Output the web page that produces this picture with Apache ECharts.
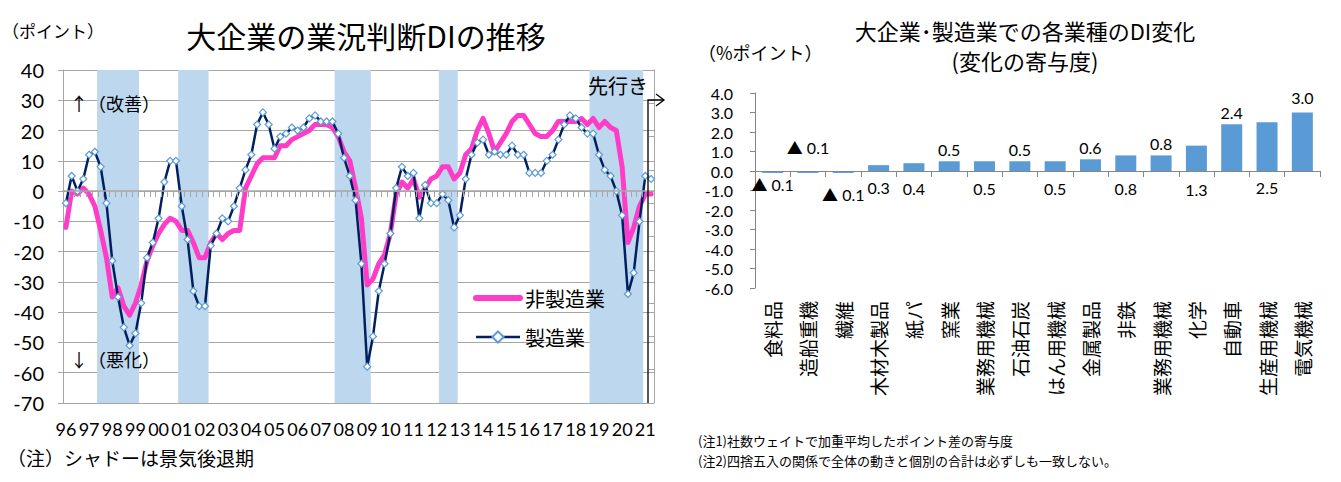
<!DOCTYPE html>
<html>
<head>
<meta charset="utf-8">
<title>大企業の業況判断DIの推移</title>
<script src="https://cdn.jsdelivr.net/npm/echarts@6/dist/echarts.min.js"></script>
<style>
  html, body { margin: 0; padding: 0; background: #fff; }
  #chart { width: 1341px; height: 482px; }
</style>
</head>
<body>
<div id="chart"></div>
<script>
// 左：大企業の業況判断DI（96年3月調査～21年3月調査、最後は先行き）
const years = ['96','97','98','99','00','01','02','03','04','05','06','07','08','09',
  '10','11','12','13','14','15','16','17','18','19','20','21'];

const manufacturing = [
  -4, 5, 0, 4, 12, 13, 8, -4, -23, -35, -45, -51, -47, -37, -22, -17, -9, 3, 10, 10,
  -5, -16, -33, -38, -38, -18, -14, -9, -10, -5, 1, 7, 12, 22, 26, 22, 14, 18, 19, 21,
  20, 21, 24, 25, 23, 23, 23, 19, 11, 5, -3, -24, -58, -48, -33, -24, -14, 1, 8, 5,
  6, -9, 2, -4, -4, -1, -3, -12, -8, 4, 12, 16, 17, 12, 13, 12, 12, 15, 12, 12,
  6, 6, 6, 10, 12, 17, 22, 25, 24, 21, 19, 19, 12, 7, 5, 0, -8, -34, -27, -10, 5, 4
];

const nonManufacturing = [
  -12, 0, -1, 1, -1, -5, -13, -22, -35, -32, -38, -41, -37, -31, -23, -18, -14, -11, -9, -10,
  -13, -13, -17, -22, -22, -17, -14, -16, -14, -13, -13, 1, 5, 9, 11, 11, 11, 15, 15, 17,
  18, 19, 20, 22, 22, 22, 21, 18, 13, 10, 1, -9, -31, -29, -24, -21, -14, -1, 3, 1,
  4, -2, 1, 4, 5, 8, 8, 4, 6, 12, 14, 20, 24, 19, 13, 16, 19, 23, 25, 25,
  22, 19, 18, 18, 20, 23, 23, 23, 23, 24, 22, 24, 21, 23, 21, 20, 8, -17, -12, -5, -1, -1
];

// 景気後退期（年/四半期）
const recessions = [['97/3', '99/1'], ['01/1', '02/1'], ['07/4', '09/1'], ['12/2', '12/4'], ['18/4', '20/4']];

// 右：大企業・製造業の業種別寄与度
const industries = ['食料品', '造船重機', '繊維', '木材木製品', '紙パ', '窯業', '業務用機械', '石油石炭',
  'はん用機械', '金属製品', '非鉄', '業務用機械', '化学', '自動車', '生産用機械', '電気機械'];
const contributions = [-0.1, -0.1, -0.1, 0.3, 0.4, 0.5, 0.5, 0.5, 0.5, 0.6, 0.8, 0.8, 1.3, 2.4, 2.5, 3.0];

// ラベルを棒の上に置くか下に置くか（見た目の指定）
const labelAbove = [false, true, false, false, false, true, false, true, false, true, false, true, false, true, false, true];
const labelGap = [4, 16, 14, 8, 9, 4, 9, 4, 9, 4, 9, 4, 10, 4, 8, 7];

const categories = [];
years.forEach(y => { for (let q = 1; q <= 4; q++) categories.push(y + '/' + q); });
categories.splice(manufacturing.length);

const shading = categories.map((c, i) =>
  recessions.some(([a, b]) => i >= categories.indexOf(a) && i <= categories.indexOf(b)) ? 1 : '-');

const JP = '"Noto Sans CJK JP", sans-serif';
const NUM = 'Lato, "Noto Sans CJK JP", sans-serif';
const GRAY = '#a6a6a6';
const SHADE = '#bdd7ee';
const PINK = '#ff3cc8';

const text = (str, x, y, size, align) => ({
  type: 'text', x: x, y: y, z: 100, silent: true,
  style: { text: str, fill: '#000', fontSize: size, fontFamily: JP, align: align || 'left', verticalAlign: 'middle' }
});

const chart = echarts.init(document.getElementById('chart'), null, { renderer: 'svg' });

const option = {
  animation: false,
  backgroundColor: '#fff',
  grid: [
    { left: 63, top: 70, width: 591, height: 333 },
    { left: 755, top: 93, width: 565, height: 195 }
  ],
  legend: {
    data: [
      { name: '非製造業', lineStyle: { width: 6, color: PINK } },
      { name: '製造業', lineStyle: { width: 2.5, color: '#002060' } }
    ],
    orient: 'vertical',
    left: 468,
    top: 283,
    itemWidth: 44,
    itemHeight: 14,
    itemGap: 19,
    textStyle: { fontSize: 20, fontFamily: JP, color: '#000' }
  },
  xAxis: [
    {
      type: 'category', gridIndex: 0, data: categories, z: 5,
      axisLine: { onZero: true, onZeroAxisIndex: 0, lineStyle: { color: GRAY, width: 1.5 } },
      axisTick: { show: true, interval: 0, length: 6, lineStyle: { color: GRAY } },
      axisLabel: { show: false }
    },
    {
      type: 'category', gridIndex: 0, data: categories, position: 'bottom',
      axisLine: { show: false, onZero: false },
      axisTick: { show: false },
      axisLabel: {
        interval: 3, margin: 17, fontSize: 18, fontFamily: NUM, color: '#000',
        formatter: v => v.split('/')[0]
      }
    },
    {
      type: 'category', gridIndex: 1, data: industries, z: 5,
      axisLine: { onZero: true, onZeroAxisIndex: 2, lineStyle: { color: '#868686' } },
      axisTick: { show: true, interval: 0, length: 6, lineStyle: { color: '#868686' } },
      axisLabel: { show: false }
    },
    {
      type: 'category', gridIndex: 1, data: industries, position: 'bottom',
      axisLine: { show: false, onZero: false },
      axisTick: { show: false },
      axisLabel: { interval: 0, rotate: 90, margin: 13, fontSize: 19, fontFamily: JP, color: '#000' }
    }
  ],
  yAxis: [
    {
      type: 'value', gridIndex: 0, min: -70, max: 40, interval: 10,
      axisLine: { show: true, lineStyle: { color: GRAY } },
      axisTick: { show: true, length: 5, lineStyle: { color: GRAY } },
      axisLabel: { margin: 19, fontSize: 20, fontFamily: NUM, color: '#000' },
      splitLine: { lineStyle: { color: GRAY, width: 1.2 } }
    },
    {
      type: 'value', gridIndex: 0, position: 'right', min: 0, max: 1, interval: 0.1,
      axisLine: { show: true, lineStyle: { color: GRAY } },
      axisTick: { show: true, inside: true, length: 5, lineStyle: { color: GRAY } },
      axisLabel: { show: false },
      splitLine: { show: false }
    },
    {
      type: 'value', gridIndex: 1, min: -6, max: 4, interval: 1,
      axisLine: { show: true, lineStyle: { color: '#868686' } },
      axisTick: { show: true, length: 5, lineStyle: { color: '#868686' } },
      axisLabel: { margin: 22, fontSize: 16, fontFamily: NUM, color: '#000', formatter: v => v.toFixed(1) },
      splitLine: { show: false }
    }
  ],
  series: [
    {
      name: '景気後退期', type: 'bar', xAxisIndex: 0, yAxisIndex: 1,
      data: shading, barWidth: 7.2, z: 1, silent: true,
      itemStyle: { color: SHADE }
    },
    {
      name: '非製造業', type: 'line', xAxisIndex: 0, yAxisIndex: 0,
      data: nonManufacturing, symbol: 'circle', showSymbol: false, z: 3,
      lineStyle: { color: PINK, width: 5, cap: 'round', join: 'round' },
      itemStyle: { color: PINK, opacity: 0 }
    },
    {
      name: '製造業', type: 'line', xAxisIndex: 0, yAxisIndex: 0,
      data: manufacturing, symbol: 'diamond', symbolSize: 7, showAllSymbol: true, z: 4,
      lineStyle: { color: '#002060', width: 2.5 },
      itemStyle: { color: '#fff', borderColor: '#5b9bd5', borderWidth: 1.2 }
    },
    {
      name: '寄与度', type: 'bar', xAxisIndex: 2, yAxisIndex: 2,
      barWidth: 21,
      itemStyle: { color: '#5b9bd5' },
      data: contributions.map((v, i) => ({
        value: v,
        label: { position: labelAbove[i] ? 'top' : 'bottom', distance: labelGap[i] }
      })),
      label: {
        show: true, fontSize: 16, fontFamily: NUM, color: '#000',
        formatter: p => (p.value < 0 ? '▲ ' : '') + Math.abs(p.value).toFixed(1)
      }
    }
  ],
  graphic: [
    text('（ポイント）', 2, 30, 17),
    text('大企業の業況判断DIの推移', 366, 35, 30, 'center'),
    text('↑（改善）', 70, 103, 18),
    text('↓（悪化）', 70, 359, 18),
    text('（注）シャドーは景気後退期', 7, 457, 19),
    text('先行き', 588, 85, 20),
    {
      type: 'polyline', silent: true, z: 100,
      shape: { points: [[648, 403], [648, 100], [664, 100]] },
      style: { stroke: '#000', lineWidth: 1.3, fill: null }
    },
    {
      type: 'polyline', silent: true, z: 100,
      shape: { points: [[656, 94], [664, 100], [656, 106]] },
      style: { stroke: '#000', lineWidth: 1.3, fill: null }
    },
    text('大企業･製造業での各業種のDI変化', 1025, 30, 22, 'center'),
    text('(変化の寄与度)', 1025, 60, 22, 'center'),
    text('（%ポイント）', 698, 52, 18),
    text('(注1)社数ウェイトで加重平均したポイント差の寄与度', 698, 440, 13),
    text('(注2)四捨五入の関係で全体の動きと個別の合計は必ずしも一致しない。', 698, 460, 13)
  ]
};

chart.setOption(option);
</script>
</body>
</html>
